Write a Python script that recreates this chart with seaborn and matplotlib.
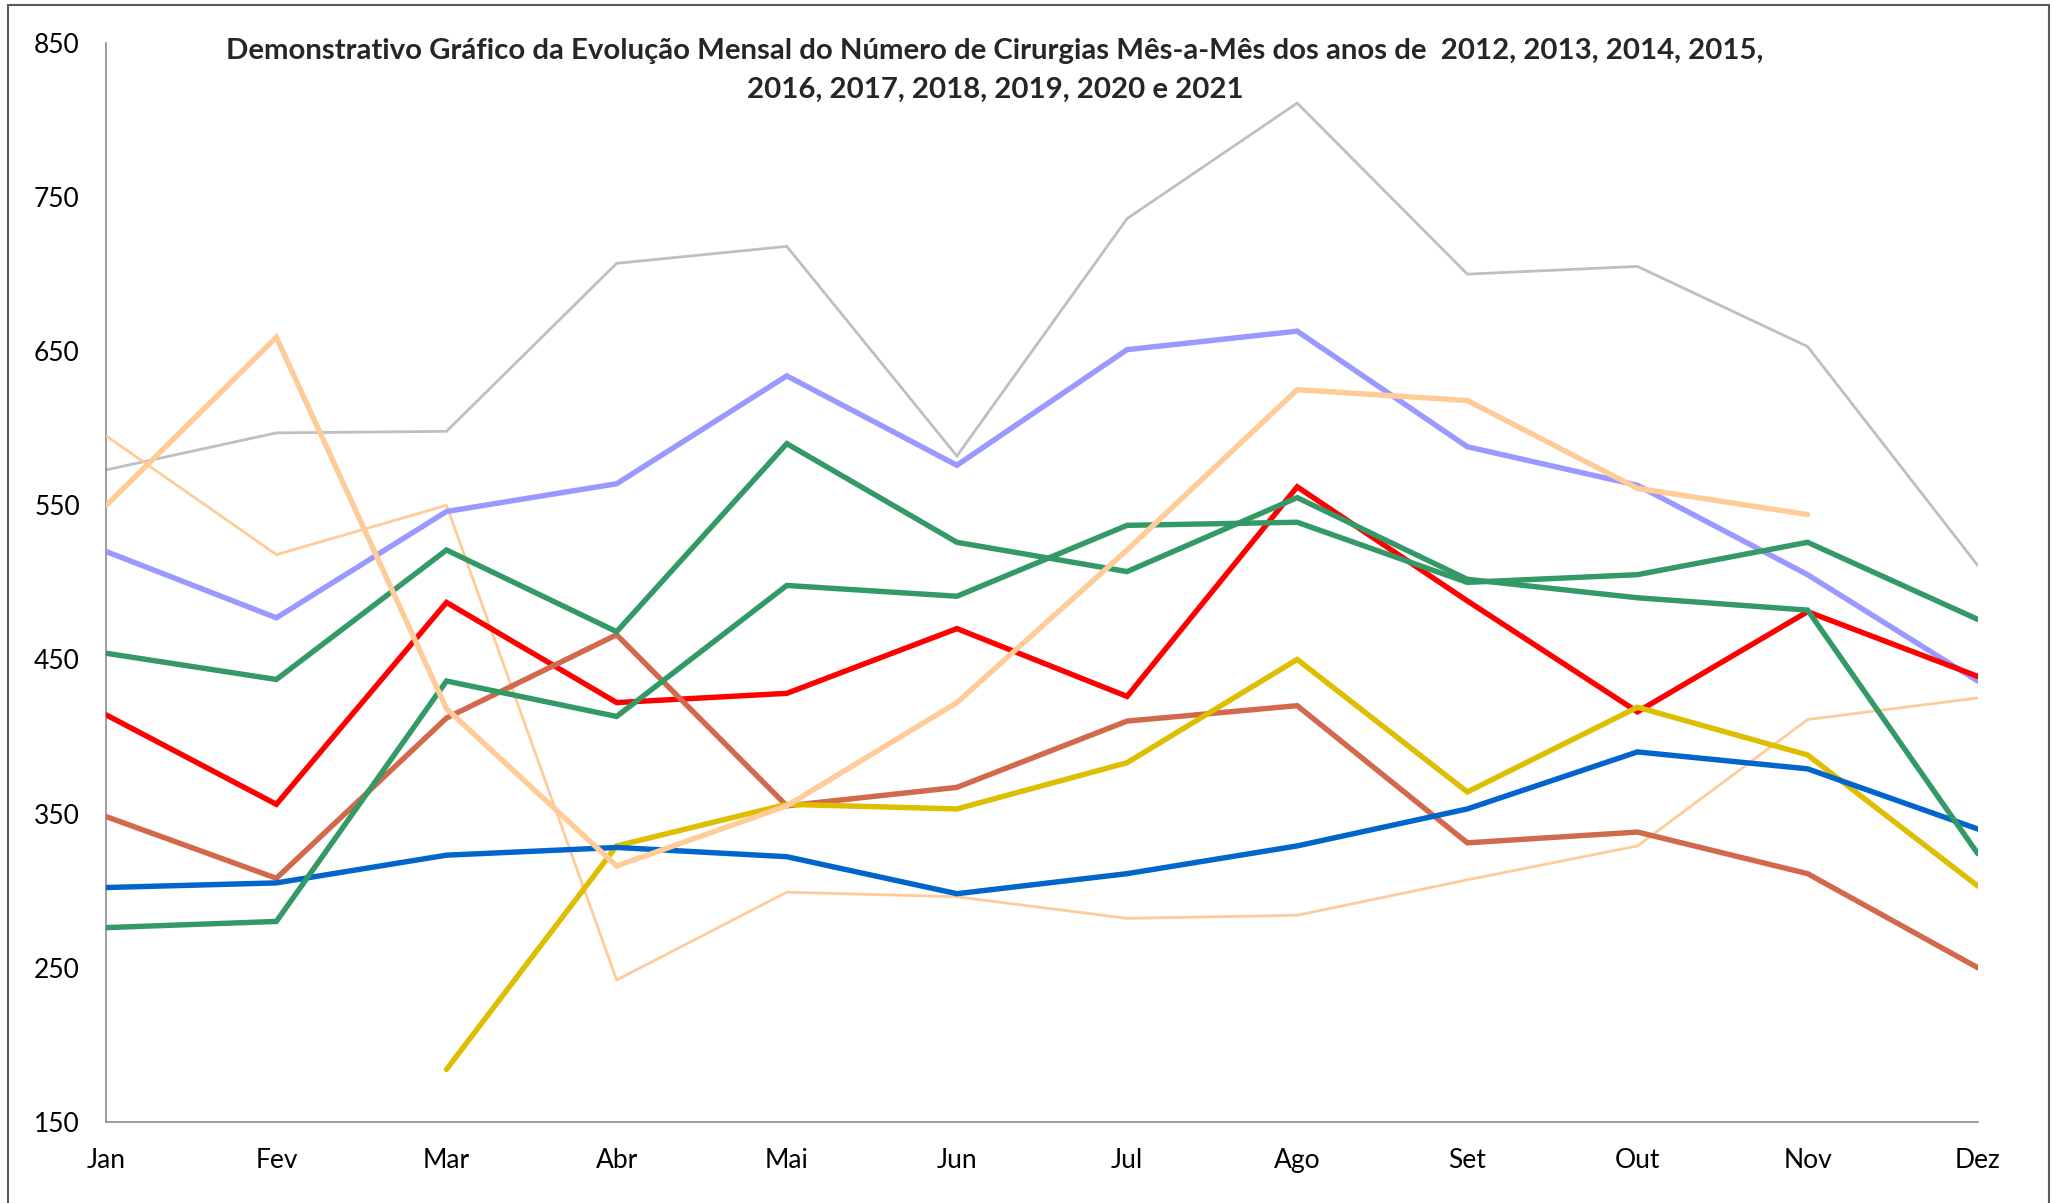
import matplotlib
matplotlib.use("Agg")
import matplotlib.pyplot as plt
import numpy as np
import pandas as pd
import seaborn as sns
from matplotlib.patches import Rectangle
from matplotlib.ticker import MultipleLocator

meses = ["Jan", "Fev", "Mar", "Abr", "Mai", "Jun", "Jul", "Ago", "Set", "Out", "Nov", "Dez"]
nan = np.nan

# valores (sem legenda no original)
serie_cinza = [573, 597, 598, 707, 718, 582, 736, 811, 700, 705, 653, 511]
serie_lavanda = [520, 477, 546, 564, 634, 576, 651, 663, 588, 563, 505, 436]
serie_laranja_fina = [595, 518, 550, 242, 299, 296, 282, 284, 307, 329, 411, 425]
serie_vermelha = [414, 356, 487, 422, 428, 470, 426, 562, 488, 416, 481, 439]
serie_marrom = [348, 308, 412, 466, 355, 367, 410, 420, 331, 338, 311, 250]
serie_amarela = [nan, nan, 184, 329, 356, 353, 383, 450, 364, 419, 388, 303]
serie_azul = [302, 305, 323, 328, 322, 298, 311, 329, 353, 390, 379, 340]
serie_verde_b = [276, 280, 436, 413, 498, 491, 537, 539, 500, 505, 526, 476]
serie_verde_a = [454, 437, 521, 468, 590, 526, 507, 555, 502, 490, 482, 324]
serie_laranja_grossa = [550, 659, 418, 316, 355, 422, 521, 625, 618, 561, 544, nan]

titulo_1 = "Demonstrativo Gráfico da Evolução Mensal do Número de Cirurgias Mês-a-Mês dos anos de  2012, 2013, 2014, 2015,"
titulo_2 = "2016, 2017, 2018, 2019, 2020 e 2021"

series = [
    (serie_cinza, "#BFBFBF", 2.0),
    (serie_laranja_fina, "#FFCC99", 2.0),
    (serie_lavanda, "#9999FF", 3.9),
    (serie_vermelha, "#FF0000", 3.9),
    (serie_marrom, "#D2694D", 3.9),
    (serie_amarela, "#DEBE00", 3.9),
    (serie_azul, "#0066CC", 3.9),
    (serie_verde_b, "#339966", 3.9),
    (serie_verde_a, "#339966", 3.9),
    (serie_laranja_grossa, "#FFCC99", 3.9),
]

sns.set_style("white")
plt.rcParams["font.family"] = ["Lato", "DejaVu Sans"]

fig = plt.figure(figsize=(20.55, 12.03), dpi=100)
ax = fig.add_axes([0.0517, 0.0675, 0.9107, 0.8968])

x = np.arange(len(meses))
for i, (vals, cor, lw) in enumerate(series):
    df = pd.DataFrame({"x": x, "y": vals}).dropna()
    sns.lineplot(data=df, x="x", y="y", color=cor, linewidth=lw, ax=ax,
                 zorder=i + 2, solid_joinstyle="miter")

ax.set_xlim(0, 11)
ax.set_ylim(150, 850)
ax.set_yticks(np.arange(150, 851, 100))
ax.set_xticks(x)
ax.set_xticklabels(meses)
ax.xaxis.set_minor_locator(MultipleLocator(0.5))
ax.set_xlabel("")
ax.set_ylabel("")

for s in ["top", "right"]:
    ax.spines[s].set_visible(False)
for s in ["left", "bottom"]:
    ax.spines[s].set_color("#8C8C8C")
    ax.spines[s].set_linewidth(1.2)

ax.tick_params(axis="both", which="both", direction="in", length=7, width=1.1,
               color="#8C8C8C", labelsize=19, labelcolor="black")
ax.tick_params(axis="y", pad=19)
ax.tick_params(axis="x", pad=19)
ax.tick_params(axis="y", which="minor", length=0)

fig.text(0.4842, 0.9507, titulo_1, ha="center", va="baseline",
         fontsize=21.2, fontweight="bold")
fig.text(0.4842, 0.9189, titulo_2, ha="center", va="baseline",
         fontsize=21.2, fontweight="bold")

fig.patches.append(Rectangle((0.004, -0.05), 0.993, 1.046, transform=fig.transFigure,
                             fill=False, edgecolor="#595959", linewidth=1.5))

fig.savefig("out.png", dpi=100)
plt.close(fig)
